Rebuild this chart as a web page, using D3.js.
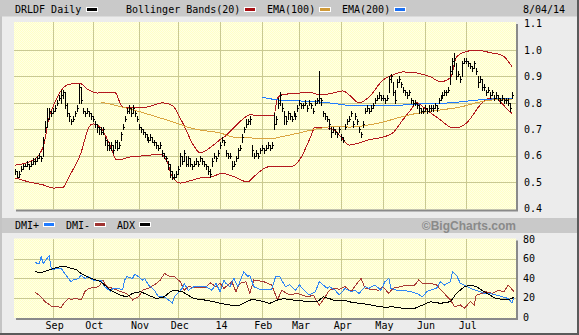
<!DOCTYPE html>
<html>
<head>
<meta charset="utf-8">
<script src="https://cdn.jsdelivr.net/npm/d3@7"></script>
<style>
  body { margin: 0; background: #ececec; }
  svg { display: block; font-family: "DejaVu Sans Mono", monospace; font-size: 10px; }
</style>
</head>
<body>
<svg id="chart" width="579" height="335"></svg>
<script>
// market holidays skipped when building the trading-day axis
const holidays = ["2013-09-02", "2013-11-28", "2013-12-25", "2014-01-01", "2014-01-20",
  "2014-02-17", "2014-04-18", "2014-05-26", "2014-07-04"];
const monthLabels = ["Sep", "Oct", "Nov", "Dec", "14", "Feb", "Mar", "Apr", "May", "Jun", "Jul"];
const priceTicks = [0.4, 0.5, 0.6, 0.7, 0.8, 0.9, 1.0, 1.1];
const dmiTicks = [0, 20, 40, 60, 80];

// daily bars, in cents
const close = [
  54,52,53,55,56,56,57,56,57,58, 58,59,60,59,66,71,74,77,76,77,
  78,80,82,83,84,79,76,75,73,74, 76,78,86,81,77,76,77,76,75,74,
  72,71,70,69,70,66,64,63,64,62, 65,63,64,68,71,74,77,78,76,78,
  76,74,71,70,69,68,67,66,67,65, 65,64,63,64,61,60,59,57,54,52,
  52,53,55,60,58,61,57,59,57,56, 57,58,57,59,58,57,56,54,53,58,
  60,59,61,64,66,65,61,60,60,56, 57,59,62,63,67,70,72,73,74,62,
  60,61,60,62,63,62,63,64,63,64, 72,74,80,83,78,75,73,76,75,74,
  76,75,78,80,79,79,80,78,80,79, 77,80,81,82,81,76,75,74,72,69,
  70,69,68,70,67,66,71,73,74,76, 72,75,73,70,68,72,77,78,77,78,
  79,81,82,83,82,82,81,82,89,90, 84,81,88,89,87,85,84,83,84,81,
  80,80,79,78,77,77,78,77,78,78, 78,79,78,81,82,83,84,84,85,92,
  96,97,90,91,89,95,96,96,95,94, 93,95,92,88,89,86,86,84,85,83,
  84,82,83,82,81,82,81,81,80,78,83
];
const high = [
  55,54,54,56,57,57,58,57,58,59, 59,60,61,60,67,73,78,78,77,78,
  79,81,83,85,85,84,80,76,74,75, 77,79,87,86,78,77,78,77,76,75,
  73,72,71,71,71,67,66,65,65,64, 66,66,65,69,72,75,78,79,78,79,
  77,75,72,71,70,69,68,67,68,67, 66,65,64,65,62,61,60,58,57,54,
  53,54,56,61,60,62,60,60,59,57, 58,59,58,60,59,58,57,56,55,59,
  61,60,62,65,67,66,62,61,61,58, 58,60,63,64,68,71,74,74,75,64,
  61,62,61,63,64,63,64,65,64,65, 76,75,82,84,80,77,75,77,76,75,
  77,76,79,81,80,80,81,79,81,80, 78,81,82,92,82,77,76,75,74,71,
  71,70,69,71,68,67,72,74,75,77, 73,76,74,71,69,73,78,79,78,79,
  80,82,83,84,83,83,82,83,90,91, 88,85,89,90,88,86,85,84,85,82,
  81,81,80,79,78,78,79,78,79,79, 79,80,79,82,83,84,85,85,86,94,
  97,99,95,92,90,96,97,97,96,95, 94,96,93,90,90,89,87,85,86,84,
  85,83,84,83,82,83,82,82,82,80,84
];
const low = [
  53,52,52,54,55,56,56,55,56,57, 57,58,59,58,60,69,71,74,75,76,
  77,79,81,80,82,78,75,73,72,73, 75,77,80,80,76,75,76,75,74,73,
  71,69,68,68,68,64,62,62,62,61, 63,62,63,66,70,73,76,76,75,76,
  75,73,70,69,68,67,66,65,66,65, 64,63,62,63,60,59,58,55,52,51,
  51,52,53,56,57,58,56,56,56,55, 56,57,56,58,57,56,55,53,52,56,
  59,58,60,63,65,64,60,59,59,55, 56,58,59,62,65,69,71,72,72,60,
  59,60,59,61,62,61,62,63,62,63, 70,72,78,79,77,72,72,74,74,73,
  75,74,77,79,78,78,79,77,79,78, 76,79,80,80,79,75,74,73,70,67,
  69,68,67,69,66,65,70,72,73,75, 71,74,72,69,67,71,76,77,76,77,
  78,80,81,82,81,81,80,81,84,88, 83,80,86,88,86,84,83,82,83,80,
  79,79,78,76,76,76,77,76,77,77, 77,78,77,80,81,82,83,83,84,87,
  91,94,89,90,88,90,95,95,94,93, 92,93,91,86,88,85,85,83,84,82,
  83,81,82,81,80,81,80,80,79,77,82
];

// indicator lines, [trading day, value]
const bbUpper = [[0,.564],[9,.583],[14,.633],[17,.746],[20,.803],[24,.856],[26,.867],[32,.875],[37,.848],
  [41,.837],[50,.84],[54,.784],[59,.784],[66,.784],[74,.80],[79,.79],[84,.727],[90,.635],[93,.61],[98,.63],
  [103,.66],[105,.67],[114,.735],[118,.754],[130,.75],[132,.818],[134,.83],[143,.837],[148,.84],[153,.83],
  [160,.837],[165,.845],[168,.83],[173,.80],[178,.822],[185,.886],[190,.905],[195,.917],[202,.913],
  [209,.898],[214,.88],[219,.894],[222,.973],[226,.992],[232,1.0],[239,.99],[245,.98],[250,.937]];
const bbLower = [[0,.515],[7,.50],[14,.489],[19,.477],[24,.48],[27,.52],[33,.61],[37,.708],[39,.72],
  [43,.705],[48,.633],[51,.583],[58,.595],[66,.60],[73,.606],[76,.583],[79,.52],[83,.496],[89,.507],
  [93,.515],[99,.52],[104,.533],[110,.52],[117,.50],[120,.52],[127,.557],[133,.56],[138,.557],[143,.583],
  [148,.66],[151,.708],[153,.708],[160,.70],[165,.66],[168,.64],[178,.66],[185,.67],[190,.686],[195,.735],
  [199,.773],[202,.80],[207,.773],[214,.735],[219,.708],[222,.705],[227,.723],[235,.80],[239,.818],
  [243,.81],[248,.773],[250,.76]];
const ema100 = [[43,.803],[56,.78],[68,.754],[81,.723],[88,.705],[93,.697],[103,.686],[110,.67],[118,.667],
  [128,.663],[133,.67],[143,.686],[151,.70],[157,.708],[163,.712],[168,.708],[185,.727],[194,.746],
  [202,.76],[214,.773],[224,.784],[232,.80],[239,.81],[250,.814]];
const ema200 = [[124,.822],[133,.81],[143,.807],[153,.803],[163,.795],[168,.79],[178,.788],[185,.788],
  [202,.795],[219,.80],[232,.81],[239,.814],[250,.818]];

const dmiPlus = [[10,55.7],[12,54.7],[13,61.9],[14,54.7],[16,60.2],[17,62.6],[18,50],[19,48.9],[23,50],
  [26,41.4],[28,36.2],[29,37.9],[32,39.6],[33,43],[35,39.6],[37,41.4],[39,37.9],[43,37.9],[45,31.1],
  [48,26],[49,29.4],[54,28.4],[55,37.9],[56,41.4],[59,39.6],[60,43.8],[62,41.4],[64,37.9],[65,39.6],
  [67,32.8],[70,27.4],[72,20.7],[75,20.7],[79,14.5],[80,20.7],[84,29.4],[85,34.5],[87,27.4],[90,31.1],
  [96,31.1],[99,27.4],[101,34.5],[103,26],[105,37.9],[106,34.5],[108,31.1],[110,39.6],[112,31.1],
  [115,46.5],[117,41.4],[118,43],[120,31.1],[123,28.4],[129,28.4],[131,41.4],[133,41.4],[136,31.1],
  [138,33],[141,27.4],[143,32.8],[146,26],[148,22.6],[151,26],[153,36.2],[155,32.8],[157,29.4],
  [158,31.1],[161,27.4],[163,22.6],[166,29.4],[169,26],[171,27.4],[173,24.2],[176,31.1],[178,29.4],
  [181,32.8],[184,27.4],[186,36.2],[188,39.6],[189,29.4],[192,27.4],[195,27.4],[199,26],[202,24.2],
  [205,20.7],[207,26],[210,28.4],[212,29.4],[214,36.2],[216,32.8],[219,36.2],[220,46.5],[222,43],
  [224,34.5],[226,32.8],[229,29.4],[232,27.4],[236,24.2],[239,24.2],[244,21.4],[248,19],[250,14.5],
  [251,20.7]];
const dmiMinus = [[10,24.9],[12,22.6],[15,15.7],[18,11.3],[23,9.9],[25,15.7],[27,19.2],[28,17.5],
  [30,19.2],[33,17.5],[35,26],[37,29.4],[42,31.1],[44,37.9],[46,31.1],[49,29.4],[53,26],[56,24.2],
  [59,17.5],[62,20.7],[64,27.4],[67,29.4],[71,34.5],[73,37.9],[75,44.7],[78,41.4],[80,41.4],[83,36.2],
  [85,27.4],[87,31.1],[90,30.4],[96,30.4],[98,35.2],[101,31.1],[103,34.5],[105,29.4],[107,32.8],
  [109,36.2],[111,26],[113,34.5],[116,36.2],[118,24.2],[120,37.9],[125,36.2],[129,32.8],[132,17.5],
  [134,27.4],[138,22.6],[142,24.2],[147,20.7],[150,22.3],[153,12],[156,20.7],[158,27.4],[161,29.4],
  [163,28.4],[166,31.1],[169,26],[172,34.5],[174,39.6],[176,29.4],[179,28.4],[183,27.4],[185,31.1],
  [188,24.2],[190,29.4],[194,31.1],[197,32.8],[201,32.8],[203,37.9],[205,34.5],[209,34.5],[212,32.8],
  [215,26],[219,17.5],[221,10.6],[224,12.3],[226,8.9],[229,15.7],[231,12.3],[232,22.3],[235,24.2],
  [237,26],[240,24.2],[243,27.4],[246,26],[248,32.8],[251,26]];
const adx = [[10,46.5],[13,45.5],[17,48.2],[21,50.9],[24,52.3],[28,50],[31,48.2],[33,44.7],[38,39.6],
  [43,36.2],[48,27.4],[53,22.3],[56,20.7],[59,24.2],[63,26],[67,22.3],[71,18.9],[75,20.7],[78,26],
  [80,27.4],[84,26],[87,22.3],[90,18.9],[95,17.5],[100,15.7],[103,14],[108,12.3],[113,12.3],[119,18.1],
  [123,16.8],[128,14],[132,17.5],[135,18.9],[138,17.8],[143,16.8],[148,15.7],[152,15.7],[155,20.7],
  [158,18.9],[161,16.8],[166,16.8],[170,14.7],[174,14],[179,12.3],[183,10.6],[187,9.9],[189,10.6],
  [192,9.9],[196,8.6],[201,8.9],[205,12.3],[209,15.7],[214,14],[219,15.7],[222,24.2],[226,31.1],
  [229,32.8],[232,31.1],[236,26],[239,22.3],[242,18.9],[247,17.8],[250,18.9],[251,20.7]];

// trading days
const fmt = d3.timeFormat("%Y-%m-%d");
const days = [];
for (let d = new Date(2013, 7, 6); d <= new Date(2014, 7, 4); d.setDate(d.getDate() + 1)) {
  const wd = d.getDay();
  if (wd === 0 || wd === 6 || holidays.includes(fmt(d))) continue;
  days.push(new Date(d));
}
const monthStarts = [];
days.forEach((d, i) => {
  if (i > 0 && d.getMonth() !== days[i - 1].getMonth()) monthStarts.push(i);
});
const monthTicks = monthStarts.slice(0, monthLabels.length);

const svg = d3.select("#chart");
const W = 579, H = 335;
const L = 14, R = 516;
const top1 = 22, bot1 = 209.5;
const top2 = 238.5, bot2 = 318;

const x = d3.scaleLinear().domain([-0.7, 252]).range([L, R]);
const y = d3.scaleLinear().domain([0.4, 1.1]).range([208.4, 23.6]);
const y2 = d3.scaleLinear().domain([0, 80]).range([317, 239]);

// frame
svg.append("rect").attr("width", W).attr("height", H).attr("fill", "#ececec");
svg.append("rect").attr("x", 0).attr("y", 0).attr("width", 2).attr("height", H).attr("fill", "#c4c4c4");
svg.append("rect").attr("x", 0).attr("y", 0).attr("width", W).attr("height", 16.5).attr("fill", "#c9c9c9");
svg.append("rect").attr("x", 2).attr("y", 218).attr("width", W - 4).attr("height", 15).attr("fill", "#c9c9c9");
svg.append("rect").attr("x", W - 2).attr("y", 0).attr("width", 2).attr("height", H).attr("fill", "#5a5a5a");
svg.append("rect").attr("x", 0).attr("y", H - 2).attr("width", W).attr("height", 2).attr("fill", "#5a5a5a");

// dotted yellow fill
const defs = svg.append("defs");
const pat = defs.append("pattern").attr("id", "dots").attr("width", 2).attr("height", 2)
  .attr("patternUnits", "userSpaceOnUse");
pat.append("rect").attr("width", 2).attr("height", 2).attr("fill", "#ffffe6");
pat.append("rect").attr("width", 1).attr("height", 1).attr("fill", "#ffffc6");
pat.append("rect").attr("x", 1).attr("y", 1).attr("width", 1).attr("height", 1).attr("fill", "#ffffc6");

function panel(id, t, b) {
  svg.append("rect").attr("x", L + 2).attr("y", t + 2).attr("width", R - L).attr("height", b - t)
    .attr("fill", "#8a8a8a");
  svg.append("rect").attr("x", L).attr("y", t).attr("width", R - L).attr("height", b - t)
    .attr("fill", "url(#dots)");
  defs.append("clipPath").attr("id", id).append("rect")
    .attr("x", L).attr("y", t).attr("width", R - L).attr("height", b - t);
  const g = svg.append("g").attr("clip-path", `url(#${id})`).attr("shape-rendering", "crispEdges");
  g.selectAll("line.v").data(monthTicks).join("line")
    .attr("x1", d => Math.round(x(d)) + 0.5).attr("x2", d => Math.round(x(d)) + 0.5)
    .attr("y1", t).attr("y2", b).attr("stroke", "#c9c992");
  return g;
}

const grid = "#c9c992";
const g1 = panel("clip1", top1, bot1);
g1.selectAll("line.h").data(priceTicks.slice(1, -1)).join("line")
  .attr("x1", L).attr("x2", R).attr("y1", d => Math.round(y(d)) + 0.5).attr("y2", d => Math.round(y(d)) + 0.5)
  .attr("stroke", grid);

const g2 = panel("clip2", top2, bot2);
g2.selectAll("line.h").data(dmiTicks.slice(1, -1)).join("line")
  .attr("x1", L).attr("x2", R).attr("y1", d => Math.round(y2(d)) + 0.5).attr("y2", d => Math.round(y2(d)) + 0.5)
  .attr("stroke", grid);

// price panel lines
const smooth = d3.line().x(d => x(d[0])).y(d => y(d[1])).curve(d3.curveMonotoneX);
const lines1 = svg.append("g").attr("clip-path", "url(#clip1)").attr("fill", "none")
  .attr("shape-rendering", "crispEdges");
lines1.append("path").attr("d", smooth(bbUpper)).attr("stroke", "#b3191e");
lines1.append("path").attr("d", smooth(bbLower)).attr("stroke", "#b3191e");
lines1.append("path").attr("d", smooth(ema100)).attr("stroke", "#d9a441");
lines1.append("path").attr("d", smooth(ema200)).attr("stroke", "#1f7bff");

// OHLC-style bars
const bars = svg.append("g").attr("clip-path", "url(#clip1)").attr("shape-rendering", "crispEdges")
  .attr("stroke", "#000");
const bx = i => Math.round(x(i)) + 0.5;
bars.selectAll("line.hl").data(close).join("line")
  .attr("x1", (d, i) => bx(i)).attr("x2", (d, i) => bx(i))
  .attr("y1", (d, i) => Math.round(y(high[i] / 100))).attr("y2", (d, i) => Math.round(y(low[i] / 100)) + 1);
bars.selectAll("line.c").data(close).join("line")
  .attr("x1", (d, i) => bx(i) - 0.5).attr("x2", (d, i) => bx(i) + 1.5)
  .attr("y1", d => Math.round(y(d / 100)) + 0.5).attr("y2", d => Math.round(y(d / 100)) + 0.5);

// DMI panel
const lin2 = d3.line().x(d => x(d[0])).y(d => y2(d[1]));
const lines2 = svg.append("g").attr("clip-path", "url(#clip2)").attr("fill", "none")
  .attr("shape-rendering", "crispEdges");
lines2.append("path").attr("d", lin2(dmiMinus)).attr("stroke", "#a83a35");
lines2.append("path").attr("d", lin2(dmiPlus)).attr("stroke", "#2f86f5");
lines2.append("path").attr("d", lin2(adx)).attr("stroke", "#000");

// right axes
const ax1 = svg.append("g").attr("transform", `translate(${R},0)`)
  .call(d3.axisRight(y).tickValues(priceTicks).tickFormat(d3.format(".1f")).tickSize(0).tickPadding(8));
const ax2 = svg.append("g").attr("transform", `translate(${R},0)`)
  .call(d3.axisRight(y2).tickValues(dmiTicks).tickSize(0).tickPadding(7));
[ax1, ax2].forEach(a => {
  a.select(".domain").remove();
  a.selectAll("text").attr("font-family", "DejaVu Sans Mono").attr("font-size", 10).attr("fill", "#000");
});

// month labels
svg.append("g").selectAll("text").data(monthTicks).join("text")
  .attr("x", d => x(d) + 1.5).attr("y", 329).attr("text-anchor", "middle")
  .text((d, i) => monthLabels[i]);

// legends
function swatch(x0, yy, color) {
  svg.append("rect").attr("x", x0).attr("y", yy).attr("width", 12).attr("height", 5).attr("fill", "#fff");
  svg.append("rect").attr("x", x0 + 1).attr("y", yy + 1).attr("width", 10).attr("height", 3).attr("fill", color);
}
const legendTop = [
  { t: "DRLDF Daily", x: 15, s: 86, c: "#000" },
  { t: "Bollinger Bands(20)", x: 126, s: 244, c: "#a80f14" },
  { t: "EMA(100)", x: 267, s: 319, c: "#d09a38" },
  { t: "EMA(200)", x: 342, s: 394, c: "#1b6ff2" }
];
legendTop.forEach(d => {
  svg.append("text").attr("x", d.x).attr("y", 13).text(d.t);
  swatch(d.s, 7, d.c);
});
svg.append("text").attr("x", 523).attr("y", 13).text("8/04/14");

const legendDmi = [
  { t: "DMI+", x: 15, s: 43, c: "#1f7bff" },
  { t: "DMI-", x: 66, s: 94, c: "#a03432" },
  { t: "ADX", x: 117, s: 139, c: "#000" }
];
legendDmi.forEach(d => {
  svg.append("text").attr("x", d.x).attr("y", 228.5).text(d.t);
  swatch(d.s, 222, d.c);
});
svg.append("text").attr("x", R).attr("y", 229.5).attr("text-anchor", "end")
  .attr("font-family", "Liberation Sans, Arial, sans-serif").attr("font-weight", "bold")
  .attr("font-size", 12).attr("fill", "#8a8a8a").text("©BigCharts.com");
</script>
</body>
</html>
